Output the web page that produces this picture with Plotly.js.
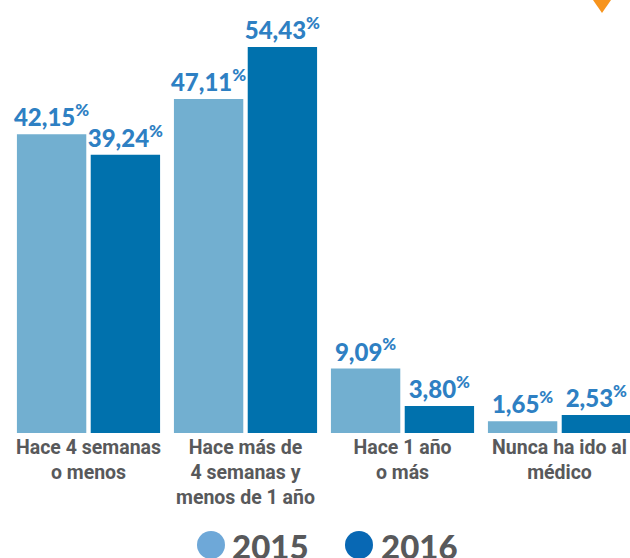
<!DOCTYPE html>
<html>
<head>
<meta charset="utf-8">
<script src="https://cdn.plot.ly/plotly-3.0.1.min.js"></script>
<style>html,body{margin:0;padding:0;background:#fff;}#chart{width:630px;height:558px;}</style>
</head>
<body>
<div id="chart"></div>
<script>
const categories = ["Hace 4 semanas<br>o menos", "Hace más de<br>4 semanas y<br>menos de 1 año", "Hace 1 año<br>o más", "Nunca ha ido al<br>médico"];
const years = ["2015", "2016"];
const values2015 = [42.15, 47.11, 9.09, 1.65];
const values2016 = [39.24, 54.43, 3.80, 2.53];

const colors = {light: "#72afd0", dark: "#0071ad", legendLight: "#6ea8d8", legendDark: "#0868b4", text: "#2e80c3", gray: "#58595b", orange: "#f7941d"};
const fmt = v => v.toFixed(2).replace(".", ",") + "<sup>%</sup>";
const valueFont = {family: "Lato, 'Open Sans', sans-serif", size: 24, color: colors.text, weight: 900};

function barTrace(name, vals, color) {
  return {
    type: "bar", name: name, x: categories, y: vals,
    marker: {color: color},
    text: vals.map(fmt), textposition: "outside", constraintext: "none", cliponaxis: false,
    textfont: valueFont, hoverinfo: "skip"
  };
}

const data = [barTrace(years[0], values2015, colors.light), barTrace(years[1], values2016, colors.dark)];

const L = 10, W = 620, T = 0, H = 433;
const px = x => (x - L) / W;
const py = y => (T + H - y) / H;

const layout = {
  width: 630, height: 558,
  margin: {l: L, r: 0, t: T, b: 558 - H},
  paper_bgcolor: "#ffffff", plot_bgcolor: "#ffffff",
  showlegend: false, hovermode: false,
  barmode: "group", bargap: 0.06, bargroupgap: 0.06,
  xaxis: {range: [-0.5, 3.449], showgrid: false, zeroline: false, showline: false, ticks: "",
    tickfont: {family: "'Liberation Sans Narrow', 'Arial Narrow', Roboto, sans-serif", size: 19.5, color: colors.gray, weight: 700}},
  yaxis: {range: [0, 61.07], visible: false, showgrid: false, zeroline: false},
  shapes: [
    {type: "circle", xref: "paper", yref: "paper", x0: px(197), x1: px(225), y0: py(559), y1: py(531), fillcolor: colors.legendLight, line: {width: 0}},
    {type: "circle", xref: "paper", yref: "paper", x0: px(345), x1: px(373), y0: py(559), y1: py(531), fillcolor: colors.legendDark, line: {width: 0}},
    {type: "path", xref: "paper", yref: "paper", path: `M ${px(593)} ${py(0)} L ${px(611)} ${py(0)} L ${px(602)} ${py(13)} Z`, fillcolor: colors.orange, line: {width: 0}}
  ],
  annotations: [
    {xref: "paper", yref: "paper", x: px(230), y: py(546), xanchor: "left", yanchor: "middle", text: years[0], showarrow: false,
      font: {family: "Lato, 'Open Sans', sans-serif", size: 33, color: colors.gray, weight: 900}},
    {xref: "paper", yref: "paper", x: px(379), y: py(546), xanchor: "left", yanchor: "middle", text: years[1], showarrow: false,
      font: {family: "Lato, 'Open Sans', sans-serif", size: 33, color: colors.gray, weight: 900}}
  ]
};

Plotly.newPlot("chart", data, layout, {staticPlot: true, displayModeBar: false});
</script>
</body>
</html>
